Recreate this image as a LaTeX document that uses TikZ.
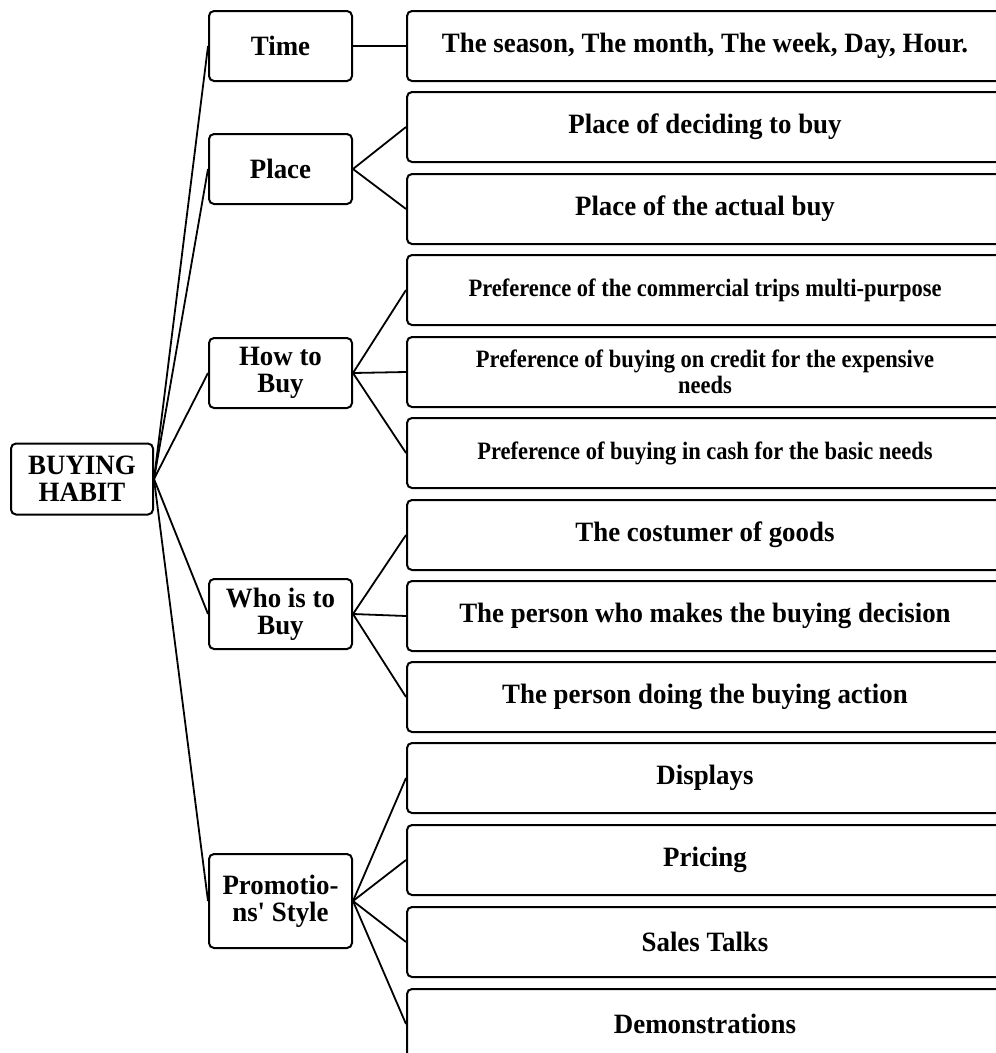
\documentclass[tikz,border=0pt]{standalone}
\usepackage{fontspec}
\setmainfont{Liberation Serif}[FakeStretch=0.96]
% same face without TeX ligature mapping, for a straight apostrophe
\newfontfamily\plainserif{Liberation Serif}[FakeStretch=0.96]
% narrower setting for the long preference lines
\newfontfamily\narrowserif{Liberation Serif}[FakeStretch=0.9]
\begin{document}
\begin{tikzpicture}[x=1pt,y=-1pt,
  box/.style={draw=black, line width=2pt, rounded corners=5pt, align=center,
              inner sep=0pt, font=\bfseries\fontsize{28}{27}\selectfont},
  rootbox/.style={box, minimum width=142pt, minimum height=71pt},
  catbox/.style={box, minimum width=143pt, minimum height=70pt},
  itembox/.style={box, minimum width=596pt, minimum height=70pt},
  smalltext/.style={font=\narrowserif\bfseries\fontsize{25}{25.5}\selectfont},
  link/.style={line width=1.8pt}]
\useasboundingbox (0,0) rectangle (996,1053);
\clip (0,0) rectangle (996,1053);

% root
\node[rootbox] (root) at (82,479) {BUYING\\HABIT};

% categories
\node[catbox] (time)  at (280.5,46)  {Time};
\node[catbox] (place) at (280.5,169) {Place};
\node[catbox] (how)   at (280.5,373) {How to\\Buy};
\node[catbox] (who)   at (280.5,614) {Who is to\\Buy};
\node[catbox, minimum height=94pt] (promo) at (280.5,901)
  {Promotio-\\{\plainserif\bfseries ns' Style}};

% details
\node[itembox] (t1) at (705,46)   {The season, The month, The week, Day, Hour.};
\node[itembox] (p1) at (705,127)  {Place of deciding to buy};
\node[itembox] (p2) at (705,209)  {Place of the actual buy};
\node[itembox, smalltext] (h1) at (705,290) {Preference of the commercial trips multi-purpose};
\node[itembox, smalltext] (h2) at (705,372) {Preference of buying on credit for the expensive\\needs};
\node[itembox, smalltext] (h3) at (705,453) {Preference of buying in cash for the basic needs};
\node[itembox] (w1) at (705,535)  {The costumer of goods};
\node[itembox] (w2) at (705,616)  {The person who makes the buying decision};
\node[itembox] (w3) at (705,697)  {The person doing the buying action};
\node[itembox] (s1) at (705,778)  {Displays};
\node[itembox] (s2) at (705,860)  {Pricing};
\node[itembox] (s3) at (705,942)  {Sales Talks};
\node[itembox] (s4) at (705,1024) {Demonstrations};

% connectors
\foreach \c in {time,place,how,who,promo}
  \draw[link] (root.east) -- (\c.west);
\draw[link] (time.east) -- (t1.west);
\foreach \d in {p1,p2}
  \draw[link] (place.east) -- (\d.west);
\foreach \d in {h1,h2,h3}
  \draw[link] (how.east) -- (\d.west);
\foreach \d in {w1,w2,w3}
  \draw[link] (who.east) -- (\d.west);
\foreach \d in {s1,s2,s3,s4}
  \draw[link] (promo.east) -- (\d.west);
\end{tikzpicture}
\end{document}
